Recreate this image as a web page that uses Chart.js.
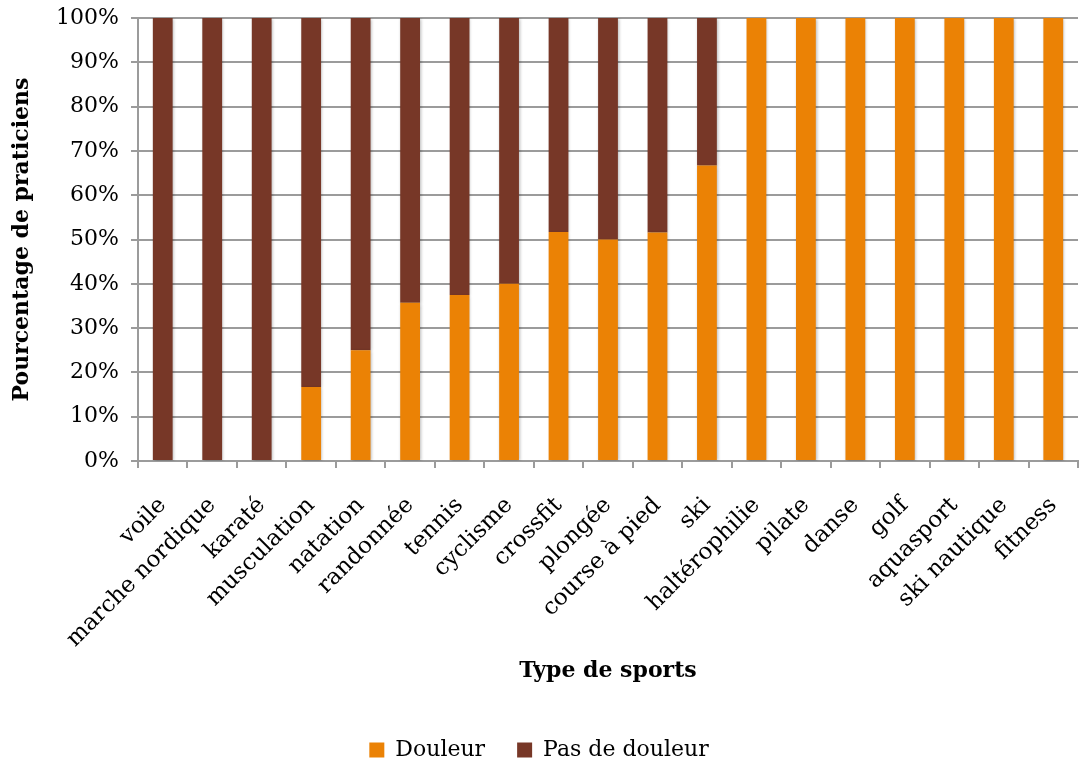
<!DOCTYPE html>
<html lang="fr">
<head>
<meta charset="utf-8">
<title>Douleur par type de sport</title>
<script src="https://cdn.jsdelivr.net/npm/chart.js@4.4.1/dist/chart.umd.min.js"></script>
<style>
  html, body { margin: 0; padding: 0; background: #fff; }
  #wrap { width: 1080px; height: 767px; position: relative; }
</style>
</head>
<body>
<div id="wrap"><canvas id="chart" width="1080" height="767"></canvas></div>
<script>
"use strict";

/* ── Data ────────────────────────────────────────────────── */
const SPORTS = [
  'voile', 'marche nordique', 'karaté', 'musculation', 'natation',
  'randonnée', 'tennis', 'cyclisme', 'crossfit', 'plongée',
  'course à pied', 'ski', 'haltérophilie', 'pilate', 'danse',
  'golf', 'aquasport', 'ski nautique', 'fitness',
];

// % de praticiens avec douleur
const DOULEUR = [
  0, 0, 0, 16.7, 25,
  35.7, 37.5, 40, 51.7, 50,
  51.6, 66.7, 100, 100, 100,
  100, 100, 100, 100,
];

// % de praticiens sans douleur
const PAS_DE_DOULEUR = [
  100, 100, 100, 83.3, 75,
  64.3, 62.5, 60, 48.3, 50,
  48.4, 33.3, 0, 0, 0,
  0, 0, 0, 0,
];

const Y_TICKS = [0, 10, 20, 30, 40, 50, 60, 70, 80, 90, 100];

/* ── Style ───────────────────────────────────────────────── */
const COLORS = {
  douleur: '#EB8205',
  pas:     '#773727',
  grid:    '#9B9B9B',
  text:    '#000000',
};
const FONT = 'DejaVu Serif';

/** Soft drop shadow behind the bar segments */
const barShadow = {
  id: 'barShadow',
  beforeDatasetsDraw(chart) {
    const ctx = chart.ctx;
    ctx.save();
    ctx.shadowColor = 'rgba(0,0,0,0.28)';
    ctx.shadowBlur = 3;
    ctx.shadowOffsetX = 1;
    ctx.shadowOffsetY = 1;
  },
  afterDatasetsDraw(chart) {
    chart.ctx.restore();
  },
};

new Chart(document.getElementById('chart'), {
  type: 'bar',
  data: {
    labels: SPORTS,
    datasets: [
      {
        label: 'Douleur',
        data: DOULEUR,
        backgroundColor: COLORS.douleur,
        barPercentage: 0.8,
        categoryPercentage: 0.5,
      },
      {
        label: 'Pas de douleur',
        data: PAS_DE_DOULEUR,
        backgroundColor: COLORS.pas,
        barPercentage: 0.8,
        categoryPercentage: 0.5,
      },
    ],
  },
  options: {
    responsive: false,
    animation: false,
    devicePixelRatio: 1,
    layout: { padding: { top: 18, right: 2, left: 0, bottom: -4 } },
    plugins: {
      tooltip: { enabled: false },
      legend: {
        position: 'bottom',
        labels: {
          color: COLORS.text,
          font: { family: FONT, size: 22 },
          boxWidth: 15,
          boxHeight: 15,
          padding: 32,
        },
      },
    },
    scales: {
      x: {
        stacked: true,
        grid: {
          drawOnChartArea: false,
          color: COLORS.grid,
          lineWidth: 2,
          tickLength: 7,
          offset: true,
        },
        border: { color: COLORS.grid, width: 2 },
        ticks: {
          color: COLORS.text,
          font: { family: FONT, size: 23 },
          minRotation: 45,
          maxRotation: 45,
          autoSkip: false,
          padding: 24,
        },
        title: {
          display: true,
          text: 'Type de sports',
          color: COLORS.text,
          font: { family: FONT, size: 22, weight: 'bold' },
          padding: { top: 14, bottom: 23 },
        },
        afterFit(scale) {
          scale.height = 246;
          scale.paddingLeft = 0;
          scale.paddingRight = 0;
        },
      },
      y: {
        stacked: true,
        min: 0,
        max: 100,
        afterBuildTicks(scale) {
          scale.ticks = Y_TICKS.map(v => ({ value: v }));
        },
        grid: {
          color: COLORS.grid,
          lineWidth: 2,
          tickLength: 7,
        },
        border: { color: COLORS.grid, width: 2 },
        ticks: {
          color: COLORS.text,
          font: { family: FONT, size: 22 },
          padding: 12,
          callback: v => v + '%',
        },
        title: {
          display: true,
          text: 'Pourcentage de praticiens',
          color: COLORS.text,
          font: { family: FONT, size: 22, weight: 'bold' },
          padding: { top: 9, bottom: 4 },
        },
        afterFit(scale) {
          scale.width = 138;
          scale.paddingTop = 0;
          scale.paddingBottom = 0;
        },
      },
    },
  },
  plugins: [barShadow],
});
</script>
</body>
</html>
